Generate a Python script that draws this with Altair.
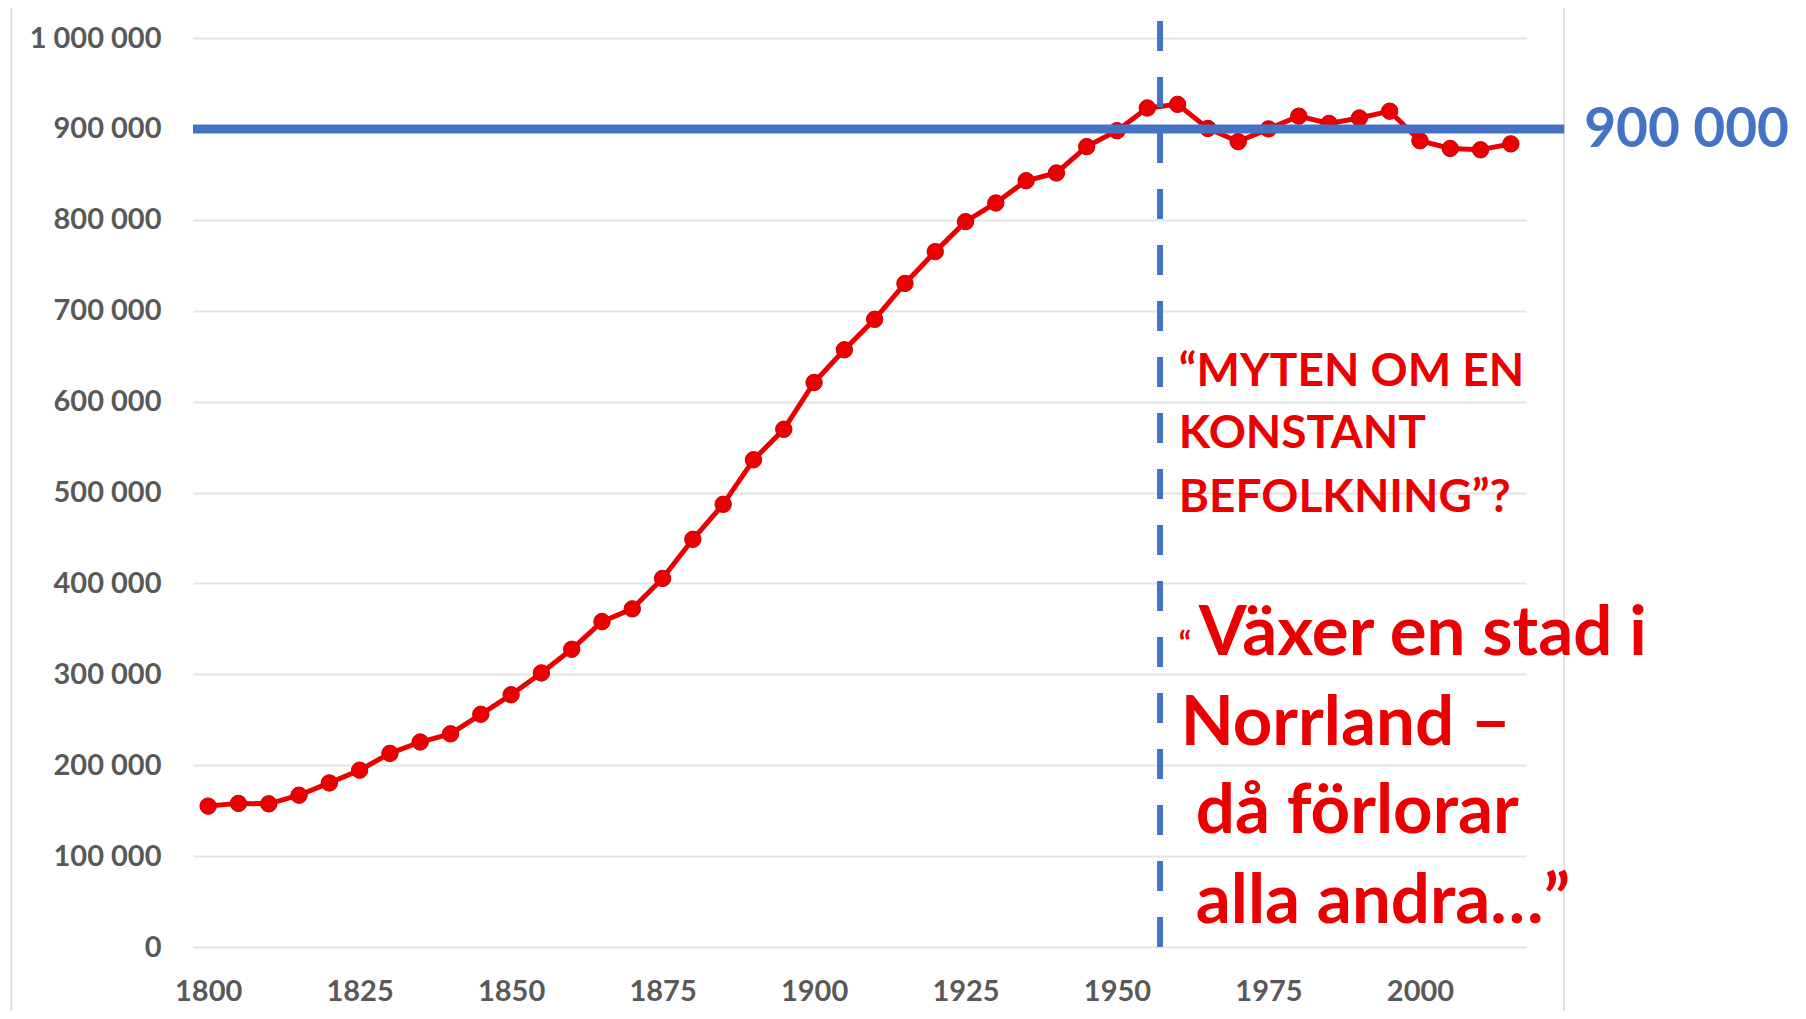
import altair as alt
import pandas as pd

# ---------------- data ----------------
years = [1800, 1805, 1810, 1815, 1820, 1825, 1830, 1835, 1840, 1845,
         1850, 1855, 1860, 1865, 1870, 1875, 1880, 1885, 1890, 1895,
         1900, 1905, 1910, 1915, 1920, 1925, 1930, 1935, 1940, 1945,
         1950, 1955, 1960, 1965, 1970, 1975, 1980, 1985, 1990, 1995,
         2000, 2005, 2010, 2015]
population = [155000, 158000, 157500, 167000, 180500, 194500, 213000, 225500, 234500, 256000,
              277500, 301500, 327500, 358000, 372000, 405500, 448500, 487000, 536000, 569500,
              621000, 657000, 690500, 730000, 765000, 798000, 818500, 843000, 851500, 880500,
              898000, 923000, 927000, 900500, 886000, 900000, 914000, 906000, 912000, 919500,
              887000, 878500, 877000, 883500]

x_tick_years = [1800, 1825, 1850, 1875, 1900, 1925, 1950, 1975, 2000]
y_tick_values = [0, 100000, 200000, 300000, 400000, 500000,
                 600000, 700000, 800000, 900000, 1000000]

reference_level = 900000
reference_label = "900 000"
marker_year = 1957.1

myth_lines = ["\u201cMYTEN OM EN", "KONSTANT", "BEFOLKNING\u201d?"]
quote_lines = ["V\u00e4xer en stad i", "Norrland \u2013", "d\u00e5 f\u00f6rlorar", "alla andra\u2026\u201d"]
open_quote = "\u201c"

# ---------------- scales ----------------
X_DOMAIN = [1797.5, 2017.5]
Y_DOMAIN = [0, 1000000]
xs = alt.Scale(domain=X_DOMAIN, nice=False, zero=False)
ys = alt.Scale(domain=Y_DOMAIN, nice=False, zero=True)

RED = "#ea0000"
BLUE = "#4472C4"
GREY = "#595959"
FONT = "Lato"

df = pd.DataFrame({"year": years, "population": population})

x_axis = alt.Axis(values=x_tick_years, format="d", title=None,
                  grid=False, domain=False, ticks=False,
                  labelFont=FONT, labelFontSize=29, labelFontWeight="bold",
                  labelColor=GREY, labelPadding=30)
y_axis = alt.Axis(values=y_tick_values, title=None,
                  labelExpr="replace(format(datum.value, ','), regexp(',', 'g'), ' ')",
                  grid=True, gridColor="#e4e4e4", gridWidth=2,
                  domain=False, ticks=False,
                  labelFont=FONT, labelFontSize=29, labelFontWeight="bold",
                  labelColor=GREY, labelPadding=32)

line = alt.Chart(df).mark_line(color=RED, strokeWidth=5).encode(
    x=alt.X("year:Q", scale=xs, axis=x_axis),
    y=alt.Y("population:Q", scale=ys, axis=y_axis))
points = alt.Chart(df).mark_circle(size=270, color=RED, opacity=1,
                                   stroke="#cc0000", strokeWidth=1).encode(
    x=alt.X("year:Q", scale=xs), y=alt.Y("population:Q", scale=ys))

# frame around the chart
frame_df = pd.DataFrame({"x": [1767.5], "x2": [2023.8], "y": [1035000], "y2": [-300000]})
frame = alt.Chart(frame_df).mark_rect(fillOpacity=0, stroke="#d9d9d9", strokeWidth=1.5).encode(
    x=alt.X("x:Q", scale=xs), x2="x2:Q",
    y=alt.Y("y:Q", scale=ys), y2="y2:Q")

ref_df = pd.DataFrame({"x": [1797.5], "x2": [2023.8], "y": [reference_level]})
ref_line = alt.Chart(ref_df).mark_rule(color=BLUE, strokeWidth=9).encode(
    x=alt.X("x:Q", scale=xs), x2="x2:Q", y=alt.Y("y:Q", scale=ys))

vline_df = pd.DataFrame({"x": [marker_year], "y": [0], "y2": [1018700]})
vline = alt.Chart(vline_df).mark_rule(color=BLUE, strokeWidth=6, strokeDash=[30, 26]).encode(
    x=alt.X("x:Q", scale=xs), y=alt.Y("y:Q", scale=ys), y2="y2:Q")

ref_text_df = pd.DataFrame({"x": [2027.1], "y": [880600], "t": [reference_label]})
ref_text = alt.Chart(ref_text_df).mark_text(
    align="left", baseline="alphabetic", font=FONT, fontWeight="bold",
    fontSize=55, color=BLUE).encode(
    x=alt.X("x:Q", scale=xs), y=alt.Y("y:Q", scale=ys), text="t:N")

myth_df = pd.DataFrame({"x": [1960.2, 1960.2, 1960.2],
                        "y": [617000, 548500, 478000],
                        "t": myth_lines})
myth_text = alt.Chart(myth_df).mark_text(
    align="left", baseline="alphabetic", font=FONT, fontWeight="bold",
    fontSize=46, color=RED).encode(
    x=alt.X("x:Q", scale=xs), y=alt.Y("y:Q", scale=ys), text="t:N")

quote_df = pd.DataFrame({"x": [1963.5, 1960.5, 1963.0, 1963.0],
                         "y": [321000, 222000, 125400, 26400],
                         "t": quote_lines})
quote_text = alt.Chart(quote_df).mark_text(
    align="left", baseline="alphabetic", font=FONT, fontWeight="bold",
    fontSize=69, color=RED).encode(
    x=alt.X("x:Q", scale=xs), y=alt.Y("y:Q", scale=ys), text="t:N")

oq_df = pd.DataFrame({"x": [1960.2], "y": [321000], "t": [open_quote]})
oq_text = alt.Chart(oq_df).mark_text(
    align="left", baseline="alphabetic", font=FONT, fontWeight="bold",
    fontSize=32, color=RED).encode(
    x=alt.X("x:Q", scale=xs), y=alt.Y("y:Q", scale=ys), text="t:N")

chart = alt.layer(line, frame, points, ref_line, vline, ref_text, myth_text, quote_text, oq_text).properties(
    width=1333, height=909,
    autosize=alt.AutoSizeParams(type="none"),
    padding={"left": 185, "top": 30, "right": 270, "bottom": 64},
    background="white",
).configure_view(strokeWidth=0)

chart.save("out.html", embed_options={"renderer": "svg", "actions": False})
